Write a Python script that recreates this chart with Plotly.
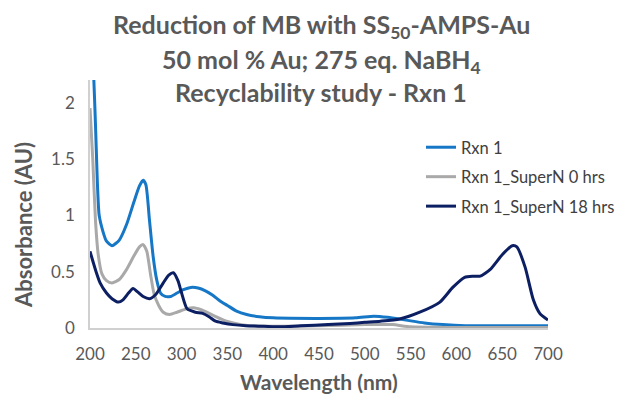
import plotly.graph_objects as go

# ---- data ----
wl_rxn1 = [200, 203, 206, 208, 210, 214, 218, 224, 232, 240, 248, 254, 258, 261, 265, 269, 273, 277, 282,
           288, 295, 302, 310, 318, 326, 334, 342, 350, 360, 371, 385, 400, 450, 490, 510, 525, 545, 565,
           585, 610, 650, 700]
abs_rxn1 = [2.6, 2.4, 1.8, 1.3, 1.0, 0.86, 0.77, 0.73, 0.78, 0.92, 1.12, 1.26, 1.31, 1.27, 0.95, 0.63, 0.42,
            0.31, 0.28, 0.28, 0.31, 0.34, 0.36, 0.355, 0.33, 0.29, 0.24, 0.2, 0.15, 0.12, 0.1, 0.09, 0.085,
            0.09, 0.105, 0.095, 0.07, 0.045, 0.03, 0.02, 0.02, 0.02]

wl_super0 = [200, 203, 206, 209, 213, 218, 224, 232, 240, 248, 254, 258, 262, 266, 270, 275, 280, 287, 295,
             305, 313, 322, 335, 349, 365, 390, 450, 500, 530, 550, 600, 700]
abs_super0 = [1.95, 1.5, 0.95, 0.65, 0.48, 0.42, 0.40, 0.43, 0.52, 0.64, 0.72, 0.74, 0.68, 0.48, 0.30, 0.2,
              0.14, 0.12, 0.14, 0.17, 0.18, 0.16, 0.11, 0.06, 0.03, 0.015, 0.02, 0.03, 0.03, 0.01, 0.005,
              0.005]

wl_super18 = [200, 207, 211, 218, 224, 231, 236, 242, 247, 252, 258, 265, 272, 280, 286, 291, 296, 300, 306,
              315, 323, 330, 337, 345, 356, 370, 390, 407, 430, 460, 484, 500, 517, 538, 560, 582, 596, 609,
              618, 626, 637, 650, 661, 666, 675, 684, 691, 700]
abs_super18 = [0.68, 0.49, 0.40, 0.31, 0.26, 0.23, 0.25, 0.31, 0.35, 0.32, 0.28, 0.26, 0.30, 0.40, 0.47,
               0.49, 0.42, 0.31, 0.17, 0.14, 0.13, 0.10, 0.06, 0.045, 0.03, 0.02, 0.015, 0.01, 0.02, 0.03,
               0.04, 0.05, 0.06, 0.08, 0.14, 0.23, 0.36, 0.45, 0.46, 0.46, 0.52, 0.65, 0.73, 0.72, 0.54, 0.25,
               0.13, 0.07]

series_names = ["Rxn 1", "Rxn 1_SuperN 0 hrs", "Rxn 1_SuperN 18 hrs"]
series_colors = ["#1677C6", "#A9A9A9", "#0D1F63"]

x_ticks = [200, 250, 300, 350, 400, 450, 500, 550, 600, 650, 700]
y_ticks = [0, 0.5, 1, 1.5, 2]
y_tick_labels = ["0", "0.5", "1", "1.5", "2"]

title_lines = ["Reduction of MB with SS<sub>50</sub>-AMPS-Au",
               "50 mol % Au; 275 eq. NaBH<sub>4</sub>",
               "Recyclability study - Rxn 1"]
x_title = "Wavelength (nm)"
y_title = "Absorbance (AU)"

FONT = "Lato"
TXT = "#595959"

fig = go.Figure()
for i, (xs, ys) in enumerate([(wl_rxn1, abs_rxn1), (wl_super0, abs_super0), (wl_super18, abs_super18)]):
    fig.add_trace(go.Scatter(x=xs, y=ys, mode="lines", name=series_names[i],
                             line=dict(color=series_colors[i], width=3, shape="spline", smoothing=0.6),
                             legendgroup=str(i)))

# plot area in pixels: x 90..548, y 80..328
left_px, right_px = 90, 548
top_px, bot_px = 80, 328
pw = right_px - left_px
ph = bot_px - top_px


def px_x(x):
    return (x - left_px) / pw


def px_y(y):
    return (bot_px - y) / ph


title_y_px = [26, 61, 92]
for line, ypx in zip(title_lines, title_y_px):
    fig.add_annotation(text="<b>" + line + "</b>", x=px_x(321), xref="paper",
                       y=px_y(ypx), yref="paper", showarrow=False,
                       xanchor="center", yanchor="middle",
                       font=dict(family=FONT, size=25, color=TXT))

fig.add_annotation(text="<b>" + y_title + "</b>", x=px_x(23), xref="paper", y=px_y(225), yref="paper",
                   textangle=-90, showarrow=False, xanchor="center", yanchor="middle",
                   font=dict(family=FONT, size=22, color=TXT))
fig.add_annotation(text="<b>" + x_title + "</b>", x=px_x(319), xref="paper", y=px_y(381), yref="paper",
                   showarrow=False, xanchor="center", yanchor="middle",
                   font=dict(family=FONT, size=21, color=TXT))

fig.update_layout(
    width=632, height=394,
    margin=dict(l=left_px, r=632 - right_px, t=top_px, b=394 - bot_px),
    paper_bgcolor="white", plot_bgcolor="white",
    font=dict(family=FONT, color=TXT, size=17),
    showlegend=True,
    legend=dict(x=px_x(421), y=px_y(130), xanchor="left", yanchor="top",
                bgcolor="rgba(0,0,0,0)", font=dict(family=FONT, size=16.5, color="#404040"),
                tracegroupgap=5, itemwidth=30),
    xaxis=dict(range=[200, 700], tickvals=x_ticks, showgrid=False, zeroline=False,
               showline=True, linecolor="#D0D0D0", linewidth=1.5, ticks="",
               tickfont=dict(size=17, color=TXT), ticklabelstandoff=10),
    yaxis=dict(range=[0, 2.2], tickvals=y_ticks, ticktext=y_tick_labels, showgrid=False, zeroline=False,
               showline=True, linecolor="#D0D0D0", linewidth=1.5, ticks="",
               tickfont=dict(size=17, color=TXT), ticklabelstandoff=10),
)

fig.write_html("out.html", config={"displayModeBar": False},
               post_script="document.body.style.margin='0px';")
